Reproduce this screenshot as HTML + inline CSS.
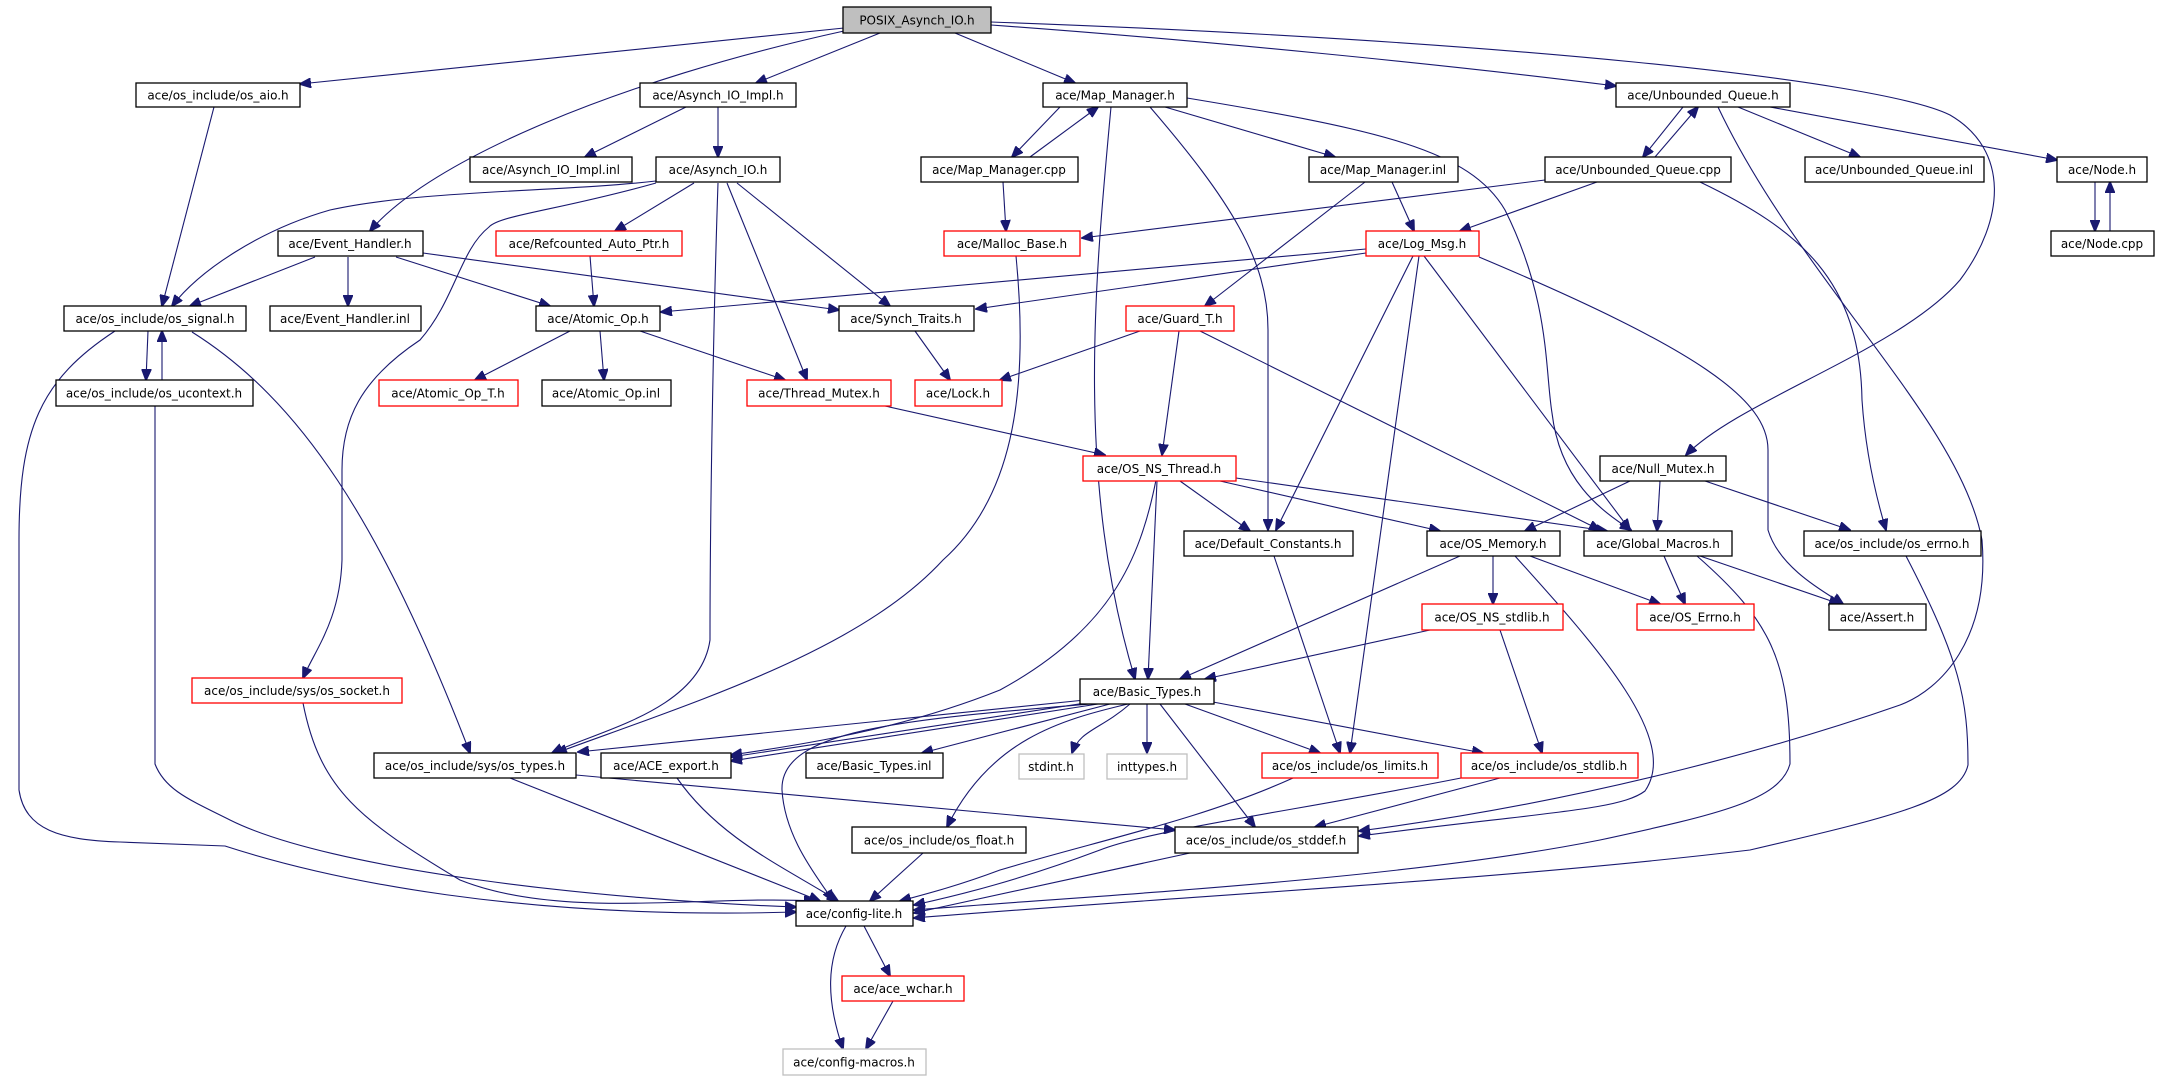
<!DOCTYPE html>
<html><head><meta charset="utf-8"><style>
html,body{margin:0;padding:0;background:#fff;width:2163px;height:1083px;overflow:hidden}
svg{display:block}
text{font-family:"DejaVu Sans","Liberation Sans",sans-serif;font-size:12px;fill:#000;text-anchor:middle}
.e{fill:none;stroke:#191970;stroke-width:1.1}
.b{fill:#fff;stroke:#000;stroke-width:1.3}
.r{fill:#fff;stroke:#ff0000;stroke-width:1.3}
.g{fill:#fff;stroke:#bfbfbf;stroke-width:1.3}
.f{fill:#bfbfbf;stroke:#000;stroke-width:1.3}
</style></head><body>
<svg width="2163" height="1083" viewBox="0 0 2163 1083" xmlns="http://www.w3.org/2000/svg">
<defs><marker id="a" markerWidth="12" markerHeight="10" refX="11" refY="5" orient="auto" markerUnits="userSpaceOnUse"><path d="M0,0 L12,5 L0,10 z" fill="#191970" stroke="#191970"/></marker></defs>
<g class="e" marker-end="url(#a)">
<!-- POSIX -->
<path d="M844,28 L300,84"/>
<path d="M844,31 C620,80 430,160 370,231"/>
<path d="M880,33 L756,83"/>
<path d="M955,33 L1075,83"/>
<path d="M991,25 C1200,40 1450,65 1616,86"/>
<path d="M991,22 C1500,40 1880,80 1950,115 C2010,150 2005,220 1960,280 C1900,350 1740,400 1686,455"/>
<!-- Asynch_IO_Impl.h -->
<path d="M686,107 L585,157"/>
<path d="M718,107 L718,157"/>
<!-- Asynch_IO.h -->
<path d="M656,181 C560,192 420,190 330,210 C260,230 200,270 172,306"/>
<path d="M656,183 C560,210 500,215 489,227 C460,250 455,300 420,340 C360,380 342,420 342,470 L342,560 C340,620 315,650 303,678"/>
<path d="M694,183 L615,231"/>
<path d="M718,183 C714,300 710,500 710,640 C700,710 600,730 552,753"/>
<path d="M727,183 L807,380"/>
<path d="M737,183 L890,306"/>
<!-- Event_Handler.h -->
<path d="M315,257 L190,306"/>
<path d="M348,257 L348,306"/>
<path d="M396,257 L550,306"/>
<path d="M423,253 L839,310"/>
<!-- os_aio -->
<path d="M214,107 L162,306"/>
<!-- os_signal -->
<path d="M148,331 L146,380"/>
<path d="M115,331 C40,380 19,430 19,540 L19,790 C25,830 60,840 120,842 L225,846 C330,880 520,920 796,912"/>
<path d="M192,332 C300,400 380,520 470,753"/>
<!-- os_ucontext -->
<path d="M162,380 L162,331"/>
<path d="M155,406 L155,764 C165,790 190,800 230,820 C330,870 600,900 796,907"/>
<!-- Atomic etc -->
<path d="M590,256 L594,306"/>
<path d="M570,331 L475,380"/>
<path d="M600,331 L604,380"/>
<path d="M640,331 L785,380"/>
<path d="M915,331 L950,380"/>
<path d="M885,406 L1105,455"/>
<!-- bottom left -->
<path d="M303,703 C320,790 360,820 460,880 C560,920 700,895 815,901"/>
<path d="M510,778 L820,901"/>
<path d="M576,775 L1175,830"/>
<path d="M677,778 C720,840 790,870 838,901"/>
<path d="M923,853 L870,901"/>
<path d="M846,926 C826,960 826,1000 843,1049"/>
<path d="M864,926 L890,976"/>
<path d="M893,1001 L866,1049"/>
<!-- Map_Manager.h -->
<path d="M1060,107 L1012,157"/>
<path d="M1030,157 L1098,107"/>
<path d="M1111,107 C1095,280 1075,480 1135,679"/>
<path d="M1150,107 C1230,200 1268,260 1268,330 L1268,530"/>
<path d="M1165,107 L1335,157"/>
<path d="M1187,98 C1380,130 1470,150 1505,210 C1550,300 1545,370 1552,413 C1560,480 1600,510 1631,530"/>
<path d="M1003,182 L1006,231"/>
<path d="M1016,256 C1030,400 1010,500 943,560 C860,650 700,700 556,753"/>
<!-- Map_Manager.inl -->
<path d="M1365,182 L1205,306"/>
<path d="M1392,182 L1414,231"/>
<!-- Unbounded_Queue.h -->
<path d="M1683,107 L1643,157"/>
<path d="M1655,157 L1698,107"/>
<path d="M1738,107 L1860,157"/>
<path d="M1770,107 L2057,160"/>
<path d="M1718,107 C1800,280 1960,420 1982,540 C1990,640 1940,690 1900,705 C1800,740 1600,800 1359,831"/>
<!-- Unbounded_Queue.cpp -->
<path d="M1545,180 L1082,238"/>
<path d="M1597,182 L1460,231"/>
<path d="M1700,182 C1800,230 1860,280 1862,400 C1866,460 1880,510 1886,530"/>
<path d="M2095,182 L2095,231"/>
<path d="M2110,231 L2110,182"/>
<!-- Log_Msg.h -->
<path d="M1366,249 L661,312"/>
<path d="M1366,253 L976,309"/>
<path d="M1413,256 L1276,530"/>
<path d="M1419,256 L1350,753"/>
<path d="M1424,256 L1630,530"/>
<path d="M1479,257 C1700,350 1768,400 1768,450 L1768,530 C1780,570 1830,595 1843,604"/>
<!-- Guard_T.h -->
<path d="M1140,331 L1000,380"/>
<path d="M1179,331 L1162,455"/>
<path d="M1200,331 L1600,530"/>
<!-- OS_NS_Thread.h -->
<path d="M1156,480 C1140,560 1110,630 1000,690 C900,730 800,745 731,755"/>
<path d="M1157,481 L1148,679"/>
<path d="M1180,481 L1250,531"/>
<path d="M1220,481 L1440,531"/>
<path d="M1236,478 L1607,531"/>
<!-- Null_Mutex.h -->
<path d="M1630,481 L1525,531"/>
<path d="M1660,481 L1657,531"/>
<path d="M1705,481 L1850,530"/>
<path d="M1274,556 L1340,753"/>
<!-- OS_Memory.h -->
<path d="M1460,556 L1180,679"/>
<path d="M1493,556 L1493,604"/>
<path d="M1530,556 L1660,604"/>
<path d="M1515,556 C1600,650 1680,740 1645,791 C1620,810 1548,812 1359,836"/>
<!-- Global_Macros.h -->
<path d="M1664,556 L1685,604"/>
<path d="M1700,556 L1840,604"/>
<path d="M1697,556 C1770,620 1790,660 1790,764 C1780,800 1720,814 1600,840 C1400,880 1100,895 914,910"/>
<path d="M1906,556 C1960,660 1968,700 1968,765 C1960,800 1900,815 1750,850 C1500,880 1200,895 914,918"/>
<!-- OS_NS_stdlib.h -->
<path d="M1430,630 L1205,679"/>
<path d="M1500,630 L1542,753"/>
<!-- Basic_Types.h -->
<path d="M1085,700 L578,752"/>
<path d="M1092,702 L731,757"/>
<path d="M1098,704 L731,761"/>
<path d="M1090,704 C900,720 780,730 782,790 C785,840 820,880 833,901"/>
<path d="M1110,704 L922,753"/>
<path d="M1130,704 C1100,730 1080,730 1072,753"/>
<path d="M1147,704 L1147,753"/>
<path d="M1128,704 C1060,720 990,740 947,827"/>
<path d="M1185,704 L1320,753"/>
<path d="M1213,702 L1483,753"/>
<path d="M1160,704 L1255,827"/>
<!-- os_limits / stdlib / stddef -->
<path d="M1293,778 C1200,820 1100,840 1000,870 C960,885 930,893 900,901"/>
<path d="M1461,778 C1300,810 1150,830 1100,850 C1020,880 960,895 914,905"/>
<path d="M1500,778 L1315,827"/>
<path d="M1190,853 L914,913"/>
</g>
<!-- nodes -->
<g>
<rect class="f" x="843" y="7" width="148" height="26"/><text x="917" y="24.5">POSIX_Asynch_IO.h</text>
<rect class="b" x="136" y="83" width="164" height="24"/><text x="218" y="99.5">ace/os_include/os_aio.h</text>
<rect class="b" x="640" y="83" width="156" height="24"/><text x="718" y="99.5">ace/Asynch_IO_Impl.h</text>
<rect class="b" x="1043" y="83" width="144" height="24"/><text x="1115" y="99.5">ace/Map_Manager.h</text>
<rect class="b" x="1616" y="83" width="174" height="24"/><text x="1703" y="99.5">ace/Unbounded_Queue.h</text>
<rect class="b" x="470" y="157" width="162" height="25"/><text x="551" y="174">ace/Asynch_IO_Impl.inl</text>
<rect class="b" x="656" y="157" width="124" height="25"/><text x="718" y="174">ace/Asynch_IO.h</text>
<rect class="b" x="921" y="157" width="157" height="25"/><text x="999" y="174">ace/Map_Manager.cpp</text>
<rect class="b" x="1309" y="157" width="149" height="25"/><text x="1383" y="174">ace/Map_Manager.inl</text>
<rect class="b" x="1545" y="157" width="186" height="25"/><text x="1638" y="174">ace/Unbounded_Queue.cpp</text>
<rect class="b" x="1805" y="157" width="179" height="25"/><text x="1894" y="174">ace/Unbounded_Queue.inl</text>
<rect class="b" x="2057" y="157" width="90" height="25"/><text x="2102" y="174">ace/Node.h</text>
<rect class="b" x="278" y="231" width="145" height="25"/><text x="350" y="248">ace/Event_Handler.h</text>
<rect class="r" x="496" y="231" width="186" height="25"/><text x="589" y="248">ace/Refcounted_Auto_Ptr.h</text>
<rect class="r" x="944" y="231" width="136" height="25"/><text x="1012" y="248">ace/Malloc_Base.h</text>
<rect class="r" x="1366" y="231" width="113" height="25"/><text x="1422" y="248">ace/Log_Msg.h</text>
<rect class="b" x="2051" y="231" width="103" height="25"/><text x="2102" y="248">ace/Node.cpp</text>
<rect class="b" x="64" y="306" width="182" height="25"/><text x="155" y="323">ace/os_include/os_signal.h</text>
<rect class="b" x="270" y="306" width="151" height="25"/><text x="345" y="323">ace/Event_Handler.inl</text>
<rect class="b" x="536" y="306" width="124" height="25"/><text x="598" y="323">ace/Atomic_Op.h</text>
<rect class="b" x="839" y="306" width="135" height="25"/><text x="906" y="323">ace/Synch_Traits.h</text>
<rect class="r" x="1126" y="306" width="108" height="25"/><text x="1180" y="323">ace/Guard_T.h</text>
<rect class="b" x="56" y="380" width="197" height="26"/><text x="154" y="397.5">ace/os_include/os_ucontext.h</text>
<rect class="r" x="379" y="380" width="139" height="26"/><text x="448" y="397.5">ace/Atomic_Op_T.h</text>
<rect class="b" x="542" y="380" width="129" height="26"/><text x="606" y="397.5">ace/Atomic_Op.inl</text>
<rect class="r" x="747" y="380" width="144" height="26"/><text x="819" y="397.5">ace/Thread_Mutex.h</text>
<rect class="r" x="915" y="380" width="87" height="26"/><text x="958" y="397.5">ace/Lock.h</text>
<rect class="r" x="1083" y="456" width="153" height="25"/><text x="1159" y="473">ace/OS_NS_Thread.h</text>
<rect class="b" x="1600" y="456" width="126" height="25"/><text x="1663" y="473">ace/Null_Mutex.h</text>
<rect class="b" x="1184" y="531" width="169" height="25"/><text x="1268" y="548">ace/Default_Constants.h</text>
<rect class="b" x="1427" y="531" width="133" height="25"/><text x="1493" y="548">ace/OS_Memory.h</text>
<rect class="b" x="1584" y="531" width="148" height="25"/><text x="1658" y="548">ace/Global_Macros.h</text>
<rect class="b" x="1804" y="531" width="177" height="25"/><text x="1892" y="548">ace/os_include/os_errno.h</text>
<rect class="r" x="1422" y="604" width="141" height="26"/><text x="1492" y="621.5">ace/OS_NS_stdlib.h</text>
<rect class="r" x="1637" y="604" width="117" height="26"/><text x="1695" y="621.5">ace/OS_Errno.h</text>
<rect class="b" x="1829" y="604" width="97" height="26"/><text x="1877" y="621.5">ace/Assert.h</text>
<rect class="r" x="192" y="678" width="210" height="25"/><text x="297" y="695">ace/os_include/sys/os_socket.h</text>
<rect class="b" x="1080" y="679" width="134" height="25"/><text x="1147" y="696">ace/Basic_Types.h</text>
<rect class="b" x="374" y="753" width="202" height="25"/><text x="475" y="770">ace/os_include/sys/os_types.h</text>
<rect class="b" x="601" y="753" width="130" height="25"/><text x="666" y="770">ace/ACE_export.h</text>
<rect class="b" x="806" y="753" width="137" height="25"/><text x="874" y="770">ace/Basic_Types.inl</text>
<rect class="g" x="1019" y="754" width="65" height="25"/><text x="1051" y="771">stdint.h</text>
<rect class="g" x="1107" y="754" width="80" height="25"/><text x="1147" y="771">inttypes.h</text>
<rect class="r" x="1262" y="753" width="176" height="25"/><text x="1350" y="770">ace/os_include/os_limits.h</text>
<rect class="r" x="1461" y="753" width="177" height="25"/><text x="1549" y="770">ace/os_include/os_stdlib.h</text>
<rect class="b" x="852" y="827" width="174" height="26"/><text x="939" y="844.5">ace/os_include/os_float.h</text>
<rect class="b" x="1175" y="827" width="183" height="26"/><text x="1266" y="844.5">ace/os_include/os_stddef.h</text>
<rect class="b" x="796" y="901" width="117" height="25"/><text x="854" y="918">ace/config-lite.h</text>
<rect class="r" x="842" y="976" width="122" height="25"/><text x="903" y="993">ace/ace_wchar.h</text>
<rect class="g" x="783" y="1049" width="143" height="26"/><text x="854" y="1066.5">ace/config-macros.h</text>
</g>
</svg>
</body></html>
